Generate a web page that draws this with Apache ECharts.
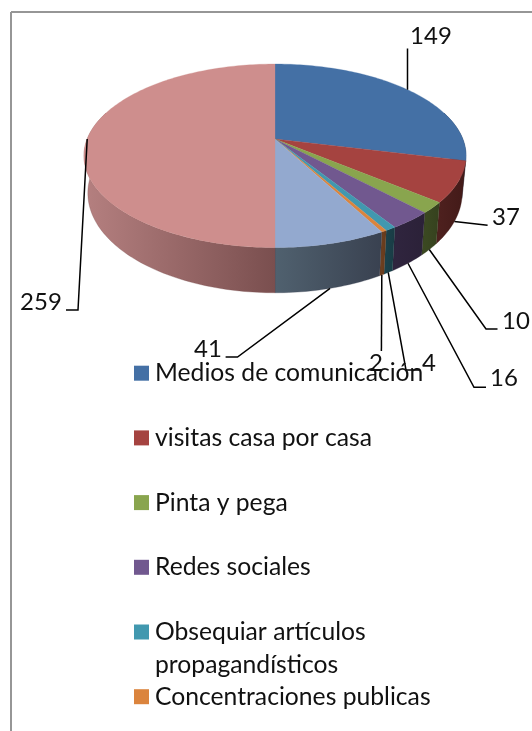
<!DOCTYPE html>
<html>
<head>
<meta charset="utf-8">
<title>Pie</title>
<style>
  html, body { margin: 0; padding: 0; background: #fff; }
  #chart { width: 532px; height: 731px; }
</style>
<script src="https://cdn.jsdelivr.net/npm/echarts@6/dist/echarts.min.js"></script>
</head>
<body>
<div id="chart"></div>
<script>
// the legend in the picture is cut off after six entries, the last two slices have no name
const categories = [
  "Medios de comunicación",
  "visitas casa por casa",
  "Pinta y pega",
  "Redes sociales",
  "Obsequiar artículos\npropagandísticos",
  "Concentraciones publicas",
];
const values = [149, 37, 10, 16, 4, 2, 41, 259];

const topColors = ["#4470a5", "#a54340", "#89a54e", "#71588f", "#4198af", "#db843d", "#93a9cf", "#ce8e8d"];
const wallColors = [
  ["#2a4566", "#223752"],
  ["#4f211f", "#421a18"],
  ["#3c4a22", "#35411e"],
  ["#30253f", "#2b2138"],
  ["#1c434d", "#193c45"],
  ["#704020", "#653a1c"],
  ["#50616f", "#394150"],
  ["#b58080", "#7a4f4f"],
];

// label layout: text centre, then the leader's fixed points (the last one comes from the slice)
const labelCentres = [[431, 36], [506, 217], [516, 321], [504, 378], [429, 363], [376, 363], [208, 349], [41, 302]];
const leaderPoints = [
  [[407.5, 48.5]],
  [[487.6, 225.3]],
  [[497.5, 329], [486, 329]],
  [[486, 387.3], [474, 387.3]],
  [[419, 370], [406, 370]],
  [[381.4, 351]],
  [[225.6, 357], [237.5, 357]],
  [[66, 310], [78, 310]],
];

// perspective of the disc: k is the foreshortening front to back
const cx = 275, k = 0.183;
const topRim = { a: 187.8, b: 88.7, cy: 139 };
const bottomRim = { a: 184, b: 96.4, cy: 174.8 };

const total = values.reduce((s, v) => s + v, 0);
const cumulative = [];
values.reduce((s, v, i) => (cumulative[i] = s, s + v), 0);

function project(rim, angle) {
  const u = Math.sin(angle), v = -Math.cos(angle);
  const w = 1 - k * v;
  return [cx + rim.a * u / w, rim.cy + rim.b * v / w];
}
function sliceAngles(i) {
  const start = cumulative[i] / total * Math.PI * 2;
  return [start, start + values[i] / total * Math.PI * 2];
}
function arc(rim, a0, a1) {
  const steps = Math.max(4, Math.ceil((a1 - a0) / 0.02));
  const pts = [];
  for (let s = 0; s <= steps; s++) pts.push(project(rim, a0 + (a1 - a0) * s / steps));
  return pts;
}

function renderWall(params, api) {
  const i = params.dataIndex;
  const [a0, a1] = sliceAngles(i);
  const visible0 = Math.max(a0, Math.PI * 0.4), visible1 = Math.min(a1, Math.PI * 1.6);
  if (visible1 <= visible0) return null;
  const pts = arc(topRim, visible0, visible1).concat(arc(bottomRim, visible0, visible1).reverse());
  const fill = new echarts.graphic.LinearGradient(0, 0, 1, 0, [
    { offset: 0, color: wallColors[i][0] },
    { offset: 1, color: wallColors[i][1] },
  ]);
  return { type: "polygon", shape: { points: pts }, style: { fill: fill, stroke: wallColors[i][1], lineWidth: 0.3 } };
}

function renderTop(params, api) {
  const i = params.dataIndex;
  const [a0, a1] = sliceAngles(i);
  const pts = [[cx, topRim.cy]].concat(arc(topRim, a0, a1));
  return { type: "polygon", shape: { points: pts }, style: { fill: topColors[i], stroke: topColors[i], lineWidth: 0.3 } };
}

function renderLeader(params, api) {
  const i = params.dataIndex;
  const [a0, a1] = sliceAngles(i);
  const mid = (a0 + a1) / 2;
  // slices facing the viewer are labelled from the foot of the wall
  const rim = -Math.cos(mid) > 0.01 ? bottomRim : topRim;
  const pts = leaderPoints[i].concat([project(rim, mid)]);
  return { type: "polyline", shape: { points: pts }, style: { fill: "none", stroke: "#000", lineWidth: 1.5 } };
}

function renderLabel(params, api) {
  const i = params.dataIndex;
  return {
    type: "text",
    style: {
      x: labelCentres[i][0], y: labelCentres[i][1],
      text: String(values[i]),
      fill: "#111",
      font: "24px Lato",
      align: "center",
      verticalAlign: "middle",
    },
  };
}

const frame = [
  { type: "line", shape: { x1: 11, y1: 12, x2: 532, y2: 12 }, style: { stroke: "#969696", lineWidth: 2 } },
  { type: "line", shape: { x1: 11, y1: 12, x2: 11, y2: 731 }, style: { stroke: "#969696", lineWidth: 2 } },
];
const legendItems = [];
categories.forEach((name, i) => {
  const rowY = 373.2 + i * 64.7;
  legendItems.push({ type: "rect", shape: { x: 134, y: rowY - 7.5, width: 15, height: 15 }, style: { fill: topColors[i] } });
  legendItems.push({
    type: "text",
    style: { x: 155, y: rowY - 16.5, text: name, fill: "#111", font: "24.7px Lato", lineHeight: 33, verticalAlign: "top" },
    z: 5,
  });
});

const chart = echarts.init(document.getElementById("chart"));
chart.setOption({
  animation: false,
  backgroundColor: "#fff",
  graphic: { elements: frame.concat(legendItems) },
  series: [
    { type: "custom", coordinateSystem: "none", data: values, renderItem: renderWall, z: 2, silent: true },
    { type: "custom", coordinateSystem: "none", data: values, renderItem: renderTop, z: 3, silent: true },
    { type: "custom", coordinateSystem: "none", data: values, renderItem: renderLeader, z: 4, silent: true },
    { type: "custom", coordinateSystem: "none", data: values, renderItem: renderLabel, z: 10, silent: true },
  ],
});
</script>
</body>
</html>
